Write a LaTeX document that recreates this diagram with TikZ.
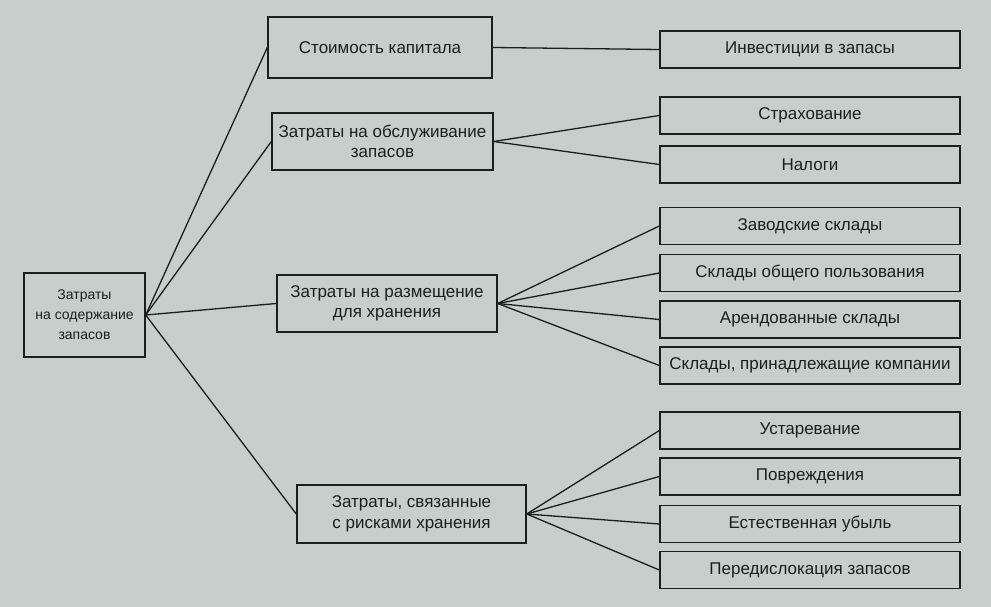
\documentclass[tikz,border=0pt]{standalone}
\usepackage{fontspec}
\setmainfont{Liberation Sans}
\definecolor{bg}{RGB}{200,206,204}
\definecolor{ink}{RGB}{28,30,30}
\begin{document}
\begin{tikzpicture}[x=1pt,y=-1pt,
  box/.style={draw=ink,line width=1.4pt,fill=bg,text=ink,align=center,inner sep=0pt,
    font=\fontsize{17}{20.5}\selectfont},
  rbox/.style={box,minimum width=300pt,minimum height=37pt},
  link/.style={draw=ink,line width=1.3pt}]
\fill[bg] (0,0) rectangle (991,607);
\useasboundingbox (0,0) rectangle (991,607);
\node[box,minimum width=121pt,minimum height=84pt,font=\fontsize{14}{20}\selectfont] (root) at (84.5,315) {Затраты\\на содержание\\запасов};
\node[box,minimum width=224pt,minimum height=61pt] (c1) at (380,47.5) {Стоимость капитала};
\node[box,minimum width=221pt,minimum height=57pt] (c2) at (382.5,141.5) {Затраты на обслуживание\\запасов};
\node[box,minimum width=220pt,minimum height=57pt] (c3) at (387,303.5) {Затраты на размещение\\для хранения};
\node[box,minimum width=229pt,minimum height=58pt] (c4) at (411.5,514) {Затраты, связанные\\с рисками хранения};
\node[rbox] (r1) at (810,49.5) {Инвестиции в запасы};
\node[rbox] (r2) at (810,115.5) {Страхование};
\node[rbox] (r3) at (810,164.5) {Налоги};
\node[rbox] (r4) at (810,226) {Заводские склады};
\node[rbox] (r5) at (810,273) {Склады общего пользования};
\node[rbox] (r6) at (810,319.5) {Арендованные склады};
\node[rbox] (r7) at (810,365.5) {Склады, принадлежащие компании};
\node[rbox] (r8) at (810,430.5) {Устаревание};
\node[rbox] (r9) at (810,476.5) {Повреждения};
\node[rbox] (r10) at (810,524) {Естественная убыль};
\node[rbox] (r11) at (810,570) {Передислокация запасов};
\foreach \c in {c1,c2,c3,c4} \draw[link] (root.east) -- (\c.west);
\draw[link] (c1.east) -- (r1.west);
\foreach \r in {r2,r3} \draw[link] (c2.east) -- (\r.west);
\foreach \r in {r4,r5,r6,r7} \draw[link] (c3.east) -- (\r.west);
\foreach \r in {r8,r9,r10,r11} \draw[link] (c4.east) -- (\r.west);
\end{tikzpicture}
\end{document}
